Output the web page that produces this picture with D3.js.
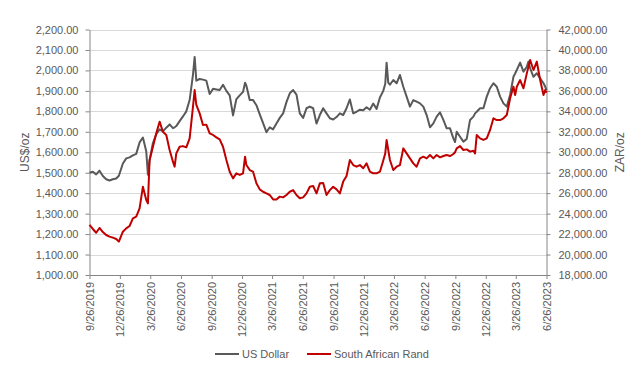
<!DOCTYPE html>
<html>
<head>
<meta charset="utf-8">
<script src="https://cdn.jsdelivr.net/npm/d3@7"></script>
<style>
  body { margin: 0; background: #fff; }
  text { font-family: "Liberation Sans", Arial, sans-serif; fill: #595959; }
</style>
</head>
<body>
<div id="chart-container"></div>
<script>
const dates = [
  "2019-09-26","2019-10-06","2019-10-16","2019-10-26","2019-11-05","2019-11-15","2019-11-25","2019-12-05","2019-12-15","2019-12-23",
  "2020-01-04","2020-01-14","2020-01-24","2020-02-03","2020-02-13","2020-02-23","2020-03-04","2020-03-14","2020-03-19","2020-03-24",
  "2020-04-03","2020-04-13","2020-04-23","2020-05-03","2020-05-13","2020-05-23","2020-06-02","2020-06-07","2020-06-12","2020-06-22",
  "2020-07-02","2020-07-12","2020-07-22","2020-08-01","2020-08-06","2020-08-11","2020-08-21","2020-08-31","2020-09-10","2020-09-20",
  "2020-09-30","2020-10-10","2020-10-20","2020-10-30","2020-11-09","2020-11-19","2020-11-29","2020-12-09","2020-12-19","2020-12-29",
  "2021-01-04","2021-01-08","2021-01-18","2021-01-28","2021-02-07","2021-02-17","2021-02-27","2021-03-09","2021-03-19","2021-03-29",
  "2021-04-08","2021-04-18","2021-04-28","2021-05-08","2021-05-18","2021-05-28","2021-06-07","2021-06-17","2021-06-27","2021-07-07",
  "2021-07-17","2021-07-27","2021-08-06","2021-08-16","2021-08-26","2021-09-05","2021-09-15","2021-09-25","2021-10-05","2021-10-15",
  "2021-10-25","2021-11-04","2021-11-14","2021-11-24","2021-12-04","2021-12-14","2021-12-24","2022-01-03","2022-01-13","2022-01-23",
  "2022-02-02","2022-02-12","2022-02-22","2022-02-28","2022-03-04","2022-03-09","2022-03-14","2022-03-24","2022-04-03","2022-04-13",
  "2022-04-23","2022-05-03","2022-05-13","2022-05-23","2022-06-02","2022-06-12","2022-06-22","2022-07-02","2022-07-12","2022-07-22",
  "2022-08-01","2022-08-11","2022-08-21","2022-08-31","2022-09-10","2022-09-20","2022-09-25","2022-09-30","2022-10-10","2022-10-20",
  "2022-10-30","2022-11-09","2022-11-19","2022-11-24","2022-11-29","2022-12-09","2022-12-19","2022-12-29","2023-01-08","2023-01-18",
  "2023-01-28","2023-02-07","2023-02-17","2023-02-27","2023-03-09","2023-03-19","2023-03-24","2023-03-29","2023-04-08","2023-04-18",
  "2023-04-28","2023-05-03","2023-05-08","2023-05-18","2023-05-28","2023-06-07","2023-06-17","2023-06-22","2023-06-26"
];

// gold price, US$/oz
const usDollar = [
  1500,1505,1492,1510,1484,1468,1462,1468,1472,1485,
  1545,1570,1575,1585,1592,1648,1672,1605,1490,1560,
  1645,1688,1712,1702,1720,1736,1718,1722,1728,1752,
  1775,1800,1855,1980,2066,1950,1958,1955,1950,1885,
  1910,1907,1904,1930,1900,1878,1780,1860,1878,1895,
  1940,1925,1855,1855,1830,1785,1742,1698,1722,1712,
  1741,1768,1790,1845,1888,1904,1882,1790,1768,1815,
  1823,1815,1740,1782,1815,1790,1766,1760,1772,1790,
  1782,1815,1858,1790,1798,1808,1805,1820,1808,1838,
  1812,1868,1900,1935,2038,1940,1930,1953,1937,1978,
  1920,1872,1823,1855,1847,1839,1823,1782,1722,1741,
  1774,1795,1758,1717,1717,1668,1650,1700,1676,1652,
  1665,1758,1774,1790,1798,1815,1815,1872,1913,1937,
  1920,1872,1839,1823,1880,1969,1985,2002,2038,1994,
  2018,2043,2010,1969,1986,1961,1937,1921,1904
];

// gold price, ZAR/oz
const southAfricanRand = [
  22900,22500,22130,22600,22200,21910,21750,21650,21520,21260,
  22230,22560,22790,23540,23700,24520,26630,25330,25000,29240,
  30540,31850,32990,32000,31690,30220,29080,28590,29890,30540,
  30600,30480,31360,34450,36080,34620,33800,32660,32700,31850,
  31690,31460,31260,30540,29240,28100,27450,27940,27780,27940,
  29570,28750,28260,28100,26960,26370,26140,25980,25820,25390,
  25390,25660,25590,25820,26140,26300,25820,25500,25590,25980,
  26630,26700,25980,26960,27000,25820,26300,26630,26370,25980,
  27130,27680,29240,28750,28590,28750,28430,28910,28100,27940,
  27940,28100,29200,29890,31200,30220,29240,28270,28590,28750,
  30380,29890,29400,28910,28590,29400,29570,29400,29730,29400,
  29730,29500,29630,29730,29630,29830,30000,30380,30600,30220,
  30280,30060,30150,29890,31690,31360,31200,31360,32180,33320,
  33150,33150,33320,33640,35270,36410,35600,36410,37060,36250,
  37710,38370,39020,38040,38860,37060,35600,36080,35820
];

const usdTicks = d3.range(1000, 2201, 100);
const zarTicks = d3.range(18000, 42001, 2000);
const axisStart = "2019-09-26";
const axisEnd = "2023-06-26";

const seriesNames = ["US Dollar", "South African Rand"];
const seriesColors = ["#595959", "#c00000"];

const parse = d3.timeParse("%Y-%m-%d");
const data = dates.map((d, i) => ({
  date: parse(d),
  usd: usDollar[i],
  zar: southAfricanRand[i],
}));

const W = 643, H = 392;
const plot = { left: 89.5, right: 546.5, top: 29.5, bottom: 275 };

const svg = d3
  .select("#chart-container")
  .append("svg")
  .attr("width", W)
  .attr("height", H);

const x = d3
  .scaleTime()
  .domain([parse(axisStart), parse(axisEnd)])
  .range([plot.left, plot.right]);
const yL = d3.scaleLinear().domain([1000, 2200]).range([plot.bottom, plot.top]);
const yR = d3.scaleLinear().domain([18000, 42000]).range([plot.bottom, plot.top]);

// gridlines
svg
  .append("g")
  .selectAll("line")
  .data(usdTicks.slice(1))
  .join("line")
  .attr("x1", plot.left)
  .attr("x2", plot.right)
  .attr("y1", (d) => Math.round(yL(d)) + 0.5)
  .attr("y2", (d) => Math.round(yL(d)) + 0.5)
  .attr("stroke", "#d9d9d9")
  .attr("stroke-width", 1);

const fmt = d3.format(",.2f");
const axisColor = "#868686";

const styleAxis = (g) => {
  g.selectAll(".domain").attr("stroke", axisColor);
  g.selectAll(".tick line").attr("stroke", axisColor);
  g.selectAll(".tick text")
    .style("font-family", "Liberation Sans, Arial, sans-serif")
    .style("font-size", "11px")
    .attr("fill", "#595959");
};

svg
  .append("g")
  .attr("transform", `translate(${plot.left}, 0)`)
  .call(d3.axisLeft(yL).tickValues(usdTicks).tickFormat(fmt).tickSize(4).tickSizeOuter(0).tickPadding(7))
  .call(styleAxis);

svg
  .append("g")
  .attr("transform", `translate(${plot.right}, 0)`)
  .call(d3.axisRight(yR).tickValues(zarTicks).tickFormat(fmt).tickSize(4).tickSizeOuter(0).tickPadding(8))
  .call(styleAxis);

const xTicks = d3.range(0, 16).map((i) => d3.timeMonth.offset(parse(axisStart), 3 * i));
const xAxis = svg
  .append("g")
  .attr("transform", `translate(0, ${plot.bottom})`)
  .call(
    d3.axisBottom(x)
      .tickValues(xTicks)
      .tickFormat(d3.timeFormat("%-m/%-d/%Y"))
      .tickSize(4)
      .tickSizeOuter(0)
  )
  .call(styleAxis);

xAxis
  .selectAll(".tick text")
  .attr("transform", "rotate(-90)")
  .attr("text-anchor", "end")
  .attr("x", -7)
  .attr("y", 0)
  .attr("dy", "0.35em");

// lines
const lineUsd = d3.line().x((d) => x(d.date)).y((d) => yL(d.usd));
const lineZar = d3.line().x((d) => x(d.date)).y((d) => yR(d.zar));

svg
  .append("path")
  .datum(data)
  .attr("fill", "none")
  .attr("stroke", seriesColors[0])
  .attr("stroke-width", 2)
  .attr("stroke-linejoin", "round")
  .attr("d", lineUsd);

svg
  .append("path")
  .datum(data)
  .attr("fill", "none")
  .attr("stroke", seriesColors[1])
  .attr("stroke-width", 2)
  .attr("stroke-linejoin", "round")
  .attr("d", lineZar);

// axis titles
svg
  .append("text")
  .attr("transform", `translate(29, ${(plot.top + plot.bottom) / 2}) rotate(-90)`)
  .attr("text-anchor", "middle")
  .style("font-size", "12px")
  .text("US$/oz");

svg
  .append("text")
  .attr("transform", `translate(624, ${(plot.top + plot.bottom) / 2}) rotate(-90)`)
  .attr("text-anchor", "middle")
  .style("font-size", "12px")
  .text("ZAR/oz");

// legend
const legendX = [215, 307];
const legend = svg
  .append("g")
  .selectAll("g")
  .data(seriesNames)
  .join("g")
  .attr("transform", (d, i) => `translate(${legendX[i]}, 354)`);

legend
  .append("line")
  .attr("x1", 0)
  .attr("x2", 24)
  .attr("stroke", (d, i) => seriesColors[i])
  .attr("stroke-width", 2);

legend
  .append("text")
  .attr("x", 27)
  .attr("dy", "0.35em")
  .style("font-size", "11px")
  .text((d) => d);
</script>
</body>
</html>
